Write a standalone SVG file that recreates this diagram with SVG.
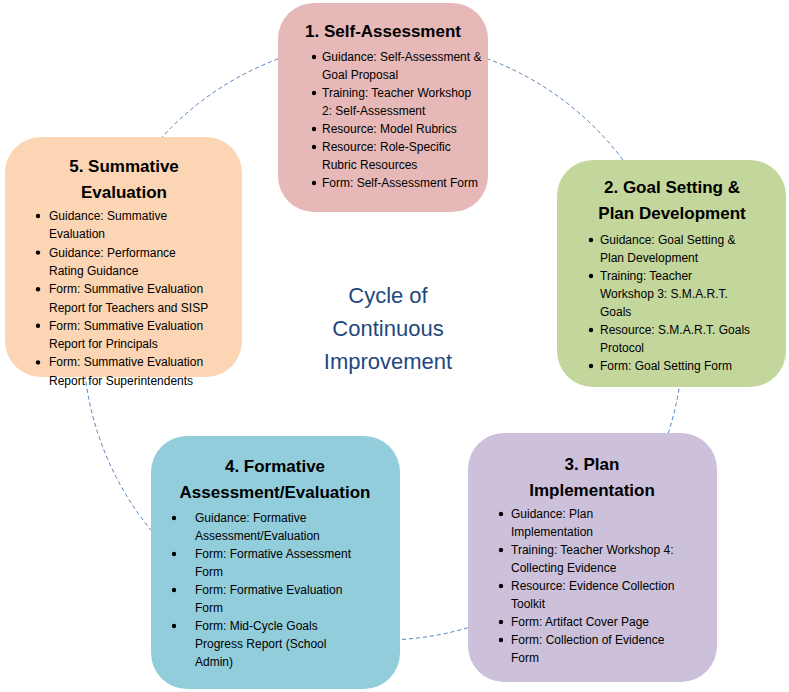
<svg xmlns="http://www.w3.org/2000/svg" width="789" height="692" viewBox="0 0 789 692">
<style>
.t{font-family:"Liberation Sans",Arial,sans-serif;font-size:17px;font-weight:bold;fill:#000;text-anchor:middle}
.b{font-family:"Liberation Sans",Arial,sans-serif;font-size:12px;fill:#000}
.c{font-family:"Liberation Sans",Arial,sans-serif;font-size:22px;fill:#1f497d;text-anchor:middle}
.d{fill:#000}
</style>
<rect width="789" height="692" fill="#fff"/>
<g id="connectors"><circle cx="383" cy="340" r="300" fill="none" stroke="#4f81bd" stroke-width="1" stroke-dasharray="4,3"/></g>
<g id="center"><text class="c" x="388" y="303">Cycle of</text><text class="c" x="388" y="336">Continuous</text><text class="c" x="388" y="369">Improvement</text></g>
<g id="n1"><rect x="278" y="3" width="210" height="209" rx="36" fill="#e6b8b7"/>
<text class="t" x="383" y="37">1. Self-Assessment</text>
<g class="d"><circle cx="314" cy="57" r="2.2"/><circle cx="314" cy="93" r="2.2"/><circle cx="314" cy="129" r="2.2"/><circle cx="314" cy="147" r="2.2"/><circle cx="314" cy="183" r="2.2"/></g>
<text class="b" x="322" y="61">Guidance: Self-Assessment &amp;<tspan x="322" dy="18">Goal Proposal</tspan><tspan x="322" dy="18">Training: Teacher Workshop</tspan><tspan x="322" dy="18">2: Self-Assessment</tspan><tspan x="322" dy="18">Resource: Model Rubrics</tspan><tspan x="322" dy="18">Resource: Role-Specific</tspan><tspan x="322" dy="18">Rubric Resources</tspan><tspan x="322" dy="18">Form: Self-Assessment Form</tspan></text></g>
<g id="n2"><rect x="557" y="160" width="229" height="227" rx="36" fill="#c3d69b"/>
<text class="t" x="672" y="193">2. Goal Setting &amp;</text><text class="t" x="672" y="219">Plan Development</text>
<g class="d"><circle cx="591" cy="240" r="2.2"/><circle cx="591" cy="276" r="2.2"/><circle cx="591" cy="330" r="2.2"/><circle cx="591" cy="366" r="2.2"/></g>
<text class="b" x="600" y="244">Guidance: Goal Setting &amp;<tspan x="600" dy="18">Plan Development</tspan><tspan x="600" dy="18">Training: Teacher</tspan><tspan x="600" dy="18">Workshop 3: S.M.A.R.T.</tspan><tspan x="600" dy="18">Goals</tspan><tspan x="600" dy="18">Resource: S.M.A.R.T. Goals</tspan><tspan x="600" dy="18">Protocol</tspan><tspan x="600" dy="18">Form: Goal Setting Form</tspan></text></g>
<g id="n3"><rect x="468" y="433" width="249" height="249" rx="36" fill="#ccc0da"/>
<text class="t" x="592" y="470">3. Plan</text><text class="t" x="592" y="496">Implementation</text>
<g class="d"><circle cx="501" cy="514" r="2.2"/><circle cx="501" cy="550" r="2.2"/><circle cx="501" cy="586" r="2.2"/><circle cx="501" cy="622" r="2.2"/><circle cx="501" cy="640" r="2.2"/></g>
<text class="b" x="511" y="518">Guidance: Plan<tspan x="511" dy="18">Implementation</tspan><tspan x="511" dy="18">Training: Teacher Workshop 4:</tspan><tspan x="511" dy="18">Collecting Evidence</tspan><tspan x="511" dy="18">Resource: Evidence Collection</tspan><tspan x="511" dy="18">Toolkit</tspan><tspan x="511" dy="18">Form: Artifact Cover Page</tspan><tspan x="511" dy="18">Form: Collection of Evidence</tspan><tspan x="511" dy="18">Form</tspan></text></g>
<g id="n4"><rect x="151" y="436" width="249" height="253" rx="36" fill="#92cddc"/>
<text class="t" x="275" y="472">4. Formative</text><text class="t" x="275" y="498">Assessment/Evaluation</text>
<g class="d"><circle cx="174" cy="518" r="2.2"/><circle cx="174" cy="554" r="2.2"/><circle cx="174" cy="590" r="2.2"/><circle cx="174" cy="626" r="2.2"/></g>
<text class="b" x="195" y="522">Guidance: Formative<tspan x="195" dy="18">Assessment/Evaluation</tspan><tspan x="195" dy="18">Form: Formative Assessment</tspan><tspan x="195" dy="18">Form</tspan><tspan x="195" dy="18">Form: Formative Evaluation</tspan><tspan x="195" dy="18">Form</tspan><tspan x="195" dy="18">Form: Mid-Cycle Goals</tspan><tspan x="195" dy="18">Progress Report (School</tspan><tspan x="195" dy="18">Admin)</tspan></text></g>
<g id="n5"><rect x="5" y="137" width="237" height="240" rx="36" fill="#fcd5b5"/>
<text class="t" x="124" y="172">5. Summative</text><text class="t" x="124" y="198">Evaluation</text>
<g class="d"><circle cx="38" cy="216" r="2.2"/><circle cx="38" cy="252.6" r="2.2"/><circle cx="38" cy="289.2" r="2.2"/><circle cx="38" cy="325.8" r="2.2"/><circle cx="38" cy="362.4" r="2.2"/></g>
<text class="b" x="49" y="220">Guidance: Summative<tspan x="49" dy="18.3">Evaluation</tspan><tspan x="49" dy="18.3">Guidance: Performance</tspan><tspan x="49" dy="18.3">Rating Guidance</tspan><tspan x="49" dy="18.3">Form: Summative Evaluation</tspan><tspan x="49" dy="18.3">Report for Teachers and SISP</tspan><tspan x="49" dy="18.3">Form: Summative Evaluation</tspan><tspan x="49" dy="18.3">Report for Principals</tspan><tspan x="49" dy="18.3">Form: Summative Evaluation</tspan><tspan x="49" dy="18.3">Report for Superintendents</tspan></text></g>
</svg>
